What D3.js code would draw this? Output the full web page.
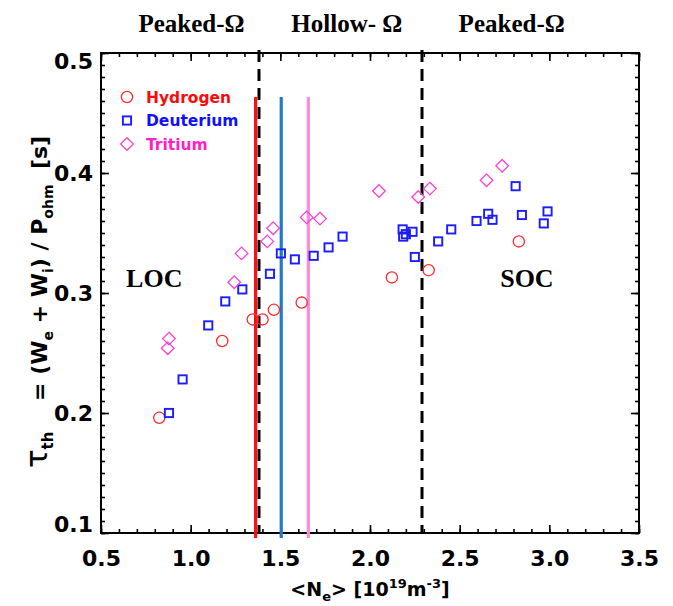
<!DOCTYPE html>
<html><head><meta charset="utf-8">
<script src="https://cdn.jsdelivr.net/npm/d3@7"></script>
<style>
html,body{margin:0;padding:0;background:#fff;}
svg{display:block;}
</style></head>
<body>
<svg id="chart" width="673" height="606"></svg>
<script>
// ---- data ----
const hydrogen = [
  [0.825,0.196],[1.176,0.260],[1.346,0.278],[1.401,0.278],[1.464,0.286],
  [1.619,0.292],[2.122,0.313],[2.327,0.319],[2.830,0.343]
];
const deuterium = [
  [0.879,0.200],[0.955,0.228],[1.098,0.273],[1.193,0.293],[1.288,0.303],
  [1.442,0.316],[1.503,0.333],[1.581,0.328],[1.686,0.331],[1.769,0.338],
  [1.847,0.347],[2.182,0.353],[2.185,0.347],[2.200,0.349],[2.237,0.351],
  [2.250,0.330],[2.380,0.343],[2.453,0.353],[2.594,0.360],[2.659,0.366],
  [2.683,0.361],[2.812,0.389],[2.847,0.365],[2.969,0.358],[2.990,0.368]
];
const tritium = [
  [0.872,0.254],[0.879,0.262],[1.243,0.309],[1.284,0.333],[1.427,0.343],
  [1.460,0.354],[1.647,0.363],[1.721,0.362],[2.050,0.385],[2.269,0.380],
  [2.334,0.387],[2.650,0.394],[2.737,0.406]
];
const thresholdLines = [
  {name:"Hydrogen", x:1.362},
  {name:"Deuterium", x:1.505},
  {name:"Tritium", x:1.656}
];
const regimeBoundaries = [1.381, 2.29];
const regimeLabels = [
  {text:"Peaked-Ω", x:1.005}, {text:"Hollow- Ω", x:1.871}, {text:"Peaked-Ω", x:2.79}
];
const confinementLabels = [{text:"LOC", x:0.797, y:0.305},{text:"SOC", x:2.875, y:0.305}];
const xMajorTicks = [0.5,1.0,1.5,2.0,2.5,3.0,3.5];
const yMajorTicks = [0.1,0.2,0.3,0.4,0.5];
const legendItems = ["Hydrogen","Deuterium","Tritium"];

// ---- styles ----
const colors = {Hydrogen:"#ff2a2a", Deuterium:"#1c1cff", Tritium:"#ff3fd2"};
const textColors = {Hydrogen:"#ff0a0a", Deuterium:"#1010ff", Tritium:"#ff1fc8"};
const lineColors = {Hydrogen:"#ff1010", Deuterium:"#1f7acc", Tritium:"#ff8ad6"};

const svg = d3.select("#chart");
const L=101, R=639, T=53, B=533;
const x = d3.scaleLinear().domain([0.5,3.5]).range([L,R]);
const y = d3.scaleLinear().domain([0.1,0.5]).range([B,T]);

const sans = "'DejaVu Sans', sans-serif";
const serif = "'Liberation Serif', 'Times New Roman', serif";

// minor ticks
const xMinor = d3.range(5,36).map(d=>d/10);
const yMinor = d3.range(10,51).map(d=>d/100);

function styleAxis(g){
  g.select(".domain").remove();
  g.selectAll("line").attr("stroke","#000").attr("stroke-width",1.6);
}
// bottom
svg.append("g").attr("transform",`translate(0,${B})`)
  .call(d3.axisBottom(x).tickValues(xMinor).tickSize(-4).tickFormat("")).call(styleAxis);
const xAx = svg.append("g").attr("transform",`translate(0,${B})`)
  .call(d3.axisBottom(x).tickValues(xMajorTicks).tickSize(-8).tickFormat(d3.format(".1f"))).call(styleAxis);
xAx.selectAll("text").attr("y",33).attr("dy",0)
  .attr("font-family",sans).attr("font-weight","bold").attr("font-size",22).attr("fill","#000");
// top
svg.append("g").attr("transform",`translate(0,${T})`)
  .call(d3.axisTop(x).tickValues(xMinor).tickSize(-4).tickFormat("")).call(styleAxis);
svg.append("g").attr("transform",`translate(0,${T})`)
  .call(d3.axisTop(x).tickValues(xMajorTicks).tickSize(-8).tickFormat("")).call(styleAxis);
// left
svg.append("g").attr("transform",`translate(${L},0)`)
  .call(d3.axisLeft(y).tickValues(yMinor).tickSize(-4).tickFormat("")).call(styleAxis);
const yAx = svg.append("g").attr("transform",`translate(${L},0)`)
  .call(d3.axisLeft(y).tickValues(yMajorTicks).tickSize(-8).tickPadding(8).tickFormat(d3.format(".1f"))).call(styleAxis);
yAx.selectAll("text")
  .attr("font-family",sans).attr("font-weight","bold").attr("font-size",22).attr("fill","#000")
  .attr("dy", d => d===0.5 ? "0.72em" : d===0.1 ? "-0.05em" : "0.36em");
// right
svg.append("g").attr("transform",`translate(${R},0)`)
  .call(d3.axisRight(y).tickValues(yMinor).tickSize(-4).tickFormat("")).call(styleAxis);
svg.append("g").attr("transform",`translate(${R},0)`)
  .call(d3.axisRight(y).tickValues(yMajorTicks).tickSize(-8).tickFormat("")).call(styleAxis);

// frame
svg.append("rect").attr("x",L).attr("y",T).attr("width",R-L).attr("height",B-T)
  .attr("fill","none").attr("stroke","#000").attr("stroke-width",2);

// regime boundaries (dashed)
svg.selectAll(".bnd").data(regimeBoundaries).enter().append("line")
  .attr("x1",d=>x(d)).attr("x2",d=>x(d)).attr("y1",T-3).attr("y2",B)
  .attr("stroke","#000").attr("stroke-width",3).attr("stroke-dasharray","12,7");

// threshold lines
svg.selectAll(".thr").data(thresholdLines).enter().append("line")
  .attr("x1",d=>x(d.x)).attr("x2",d=>x(d.x)).attr("y1",97).attr("y2",B+5)
  .attr("stroke",d=>lineColors[d.name]).attr("stroke-width",3.2);

// markers
const gH = svg.append("g");
gH.selectAll("circle").data(hydrogen).enter().append("circle")
  .attr("cx",d=>x(d[0])).attr("cy",d=>y(d[1])).attr("r",5.6)
  .attr("fill","none").attr("stroke",colors.Hydrogen).attr("stroke-width",1.3);
const gD = svg.append("g");
const sq = 8.2;
gD.selectAll("rect").data(deuterium).enter().append("rect")
  .attr("x",d=>x(d[0])-sq/2).attr("y",d=>y(d[1])-sq/2).attr("width",sq).attr("height",sq)
  .attr("fill","none").attr("stroke",colors.Deuterium).attr("stroke-width",1.9);
const gT = svg.append("g");
const dm = 6.3;
gT.selectAll("path").data(tritium).enter().append("path")
  .attr("d",d=>{const cx=x(d[0]),cy=y(d[1]);return `M${cx},${cy-dm}L${cx+dm},${cy}L${cx},${cy+dm}L${cx-dm},${cy}Z`;})
  .attr("fill","none").attr("stroke",colors.Tritium).attr("stroke-width",1.3);

// legend
const legY = [97,120.5,144];
const lg = svg.append("g");
legendItems.forEach((name,i)=>{
  const cx=127, cy=legY[i];
  if(name==="Hydrogen") lg.append("circle").attr("cx",cx).attr("cy",cy).attr("r",5.6).attr("fill","none").attr("stroke",colors[name]).attr("stroke-width",1.3);
  if(name==="Deuterium") lg.append("rect").attr("x",cx-sq/2).attr("y",cy-sq/2).attr("width",sq).attr("height",sq).attr("fill","none").attr("stroke",colors[name]).attr("stroke-width",1.9);
  if(name==="Tritium") lg.append("path").attr("d",`M${cx},${cy-dm}L${cx+dm},${cy}L${cx},${cy+dm}L${cx-dm},${cy}Z`).attr("fill","none").attr("stroke",colors[name]).attr("stroke-width",1.3);
  lg.append("text").attr("x",146).attr("y",cy+5.5).text(name)
    .attr("font-family",sans).attr("font-weight","bold").attr("font-size",15.5).attr("fill",textColors[name]);
});

// regime labels on top
svg.selectAll(".reg").data(regimeLabels).enter().append("text")
  .attr("x",d=>x(d.x)).attr("y",31.5).attr("text-anchor","middle").text(d=>d.text)
  .attr("font-family",serif).attr("font-weight","bold").attr("font-size",25).attr("fill","#000");

// LOC / SOC
svg.selectAll(".conf").data(confinementLabels).enter().append("text")
  .attr("x",d=>x(d.x)).attr("y",d=>y(d.y)).attr("text-anchor","middle").text(d=>d.text)
  .attr("font-family",serif).attr("font-weight","bold").attr("font-size",26).attr("fill","#000");

// x title
const xt = svg.append("text").attr("x",370).attr("y",596).attr("text-anchor","middle")
  .attr("font-family",sans).attr("font-weight","bold").attr("font-size",19).attr("fill","#000")
  .style("white-space","pre");
xt.append("tspan").text("<N");
xt.append("tspan").attr("dy",5).attr("font-size",13).text("e");
xt.append("tspan").attr("dy",-5).text("> [10");
xt.append("tspan").attr("dy",-8).attr("font-size",13).text("19");
xt.append("tspan").attr("dy",8).text("m");
xt.append("tspan").attr("dy",-8).attr("font-size",13).text("-3");
xt.append("tspan").attr("dy",8).text("]");

// y title
const yt = svg.append("text").attr("transform","translate(47,302) rotate(-90)").attr("text-anchor","middle")
  .attr("font-family",sans).attr("font-weight","bold").attr("font-size",22).attr("fill","#000")
  .style("white-space","pre");
yt.append("tspan").attr("font-size",31).attr("font-weight","normal").text("τ");
yt.append("tspan").attr("dy",6).attr("font-size",15).text("th");
yt.append("tspan").attr("dy",-6).text("    = (W");
yt.append("tspan").attr("dy",6).attr("font-size",14).text("e");
yt.append("tspan").attr("dy",-6).text(" + W");
yt.append("tspan").attr("dy",6).attr("font-size",14).text("i");
yt.append("tspan").attr("dy",-6).text(") / P");
yt.append("tspan").attr("dy",6).attr("font-size",14).text("ohm");
yt.append("tspan").attr("dy",-6).text("  [s]");
</script>
</body></html>
